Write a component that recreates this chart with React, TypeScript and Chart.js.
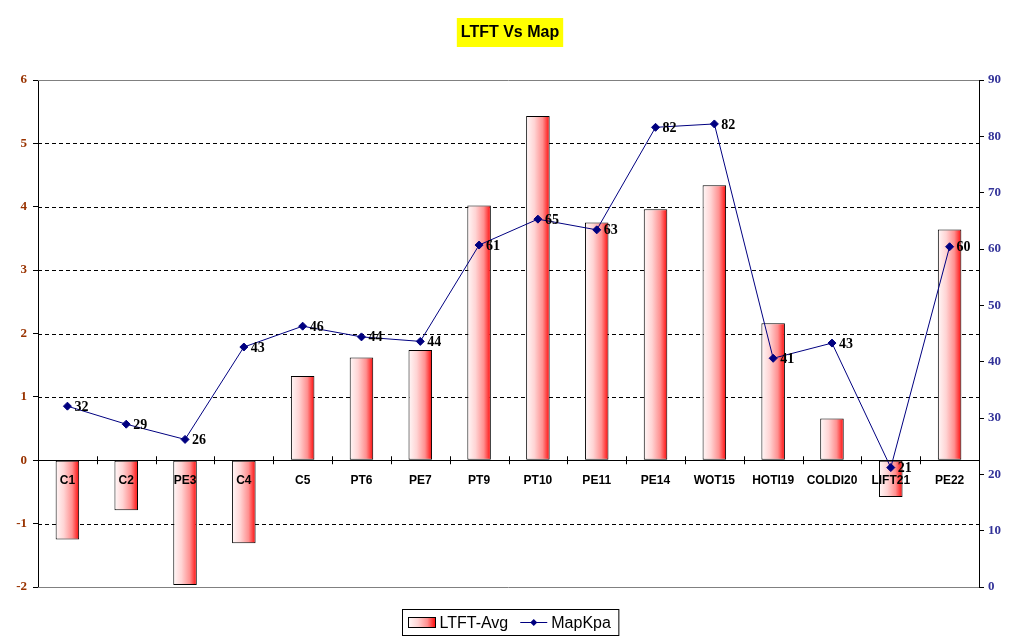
import React, { useEffect, useRef } from "react";
import { Chart, registerables } from "chart.js";

Chart.register(...registerables);

const categories = ["C1", "C2", "PE3", "C4", "C5", "PT6", "PE7", "PT9", "PT10", "PE11", "PE14", "WOT15", "HOTI19", "COLDI20", "LIFT21", "PE22"];
const ltftAvg = [-1.25, -0.79, -1.97, -1.31, 1.33, 1.62, 1.74, 4.02, 5.43, 3.75, 3.96, 4.34, 2.16, 0.66, -0.58, 3.64];
const mapKpa = [32.1, 28.9, 26.2, 42.6, 46.3, 44.4, 43.6, 60.7, 65.3, 63.4, 81.6, 82.2, 40.6, 43.3, 21.2, 60.4];
const titleText = "LTFT Vs Map";
const leftMin = -2;
const leftMax = 6;
const rightMin = 0;
const rightMax = 90;

const SANS = "'Liberation Sans', Arial, sans-serif";
const SERIF = "'Liberation Serif', 'Times New Roman', serif";
const BAR_PCT = 0.4;

function addStops(g: CanvasGradient) {
  g.addColorStop(0, "#fff8f8");
  g.addColorStop(0.35, "#ffd4d4");
  g.addColorStop(0.7, "#ff9090");
  g.addColorStop(1, "#ff0808");
  return g;
}

function barGradient(ctx: any) {
  const chart = ctx.chart;
  const area = chart.chartArea;
  const xs = chart.scales?.x;
  if (!area || !xs || ctx.dataIndex === undefined) return "#ff8080";
  const cx = xs.getPixelForValue(ctx.dataIndex);
  const w = (area.width / categories.length) * BAR_PCT;
  return addStops(chart.ctx.createLinearGradient(cx - w / 2, 0, cx + w / 2, 0));
}

const gridPlugin = {
  id: "customGrid",
  beforeDatasetsDraw(chart: any) {
    const { ctx, chartArea } = chart;
    const ys = chart.scales.y;
    ctx.save();
    for (let v = leftMin; v <= leftMax; v++) {
      if (v === 0) continue;
      const y = Math.round(ys.getPixelForValue(v)) + 0.5;
      ctx.beginPath();
      if (v === leftMin || v === leftMax) {
        ctx.setLineDash([]);
        ctx.strokeStyle = "#808080";
      } else {
        ctx.setLineDash([4, 3]);
        ctx.strokeStyle = "#000000";
      }
      ctx.lineWidth = 1;
      ctx.moveTo(chartArea.left, y);
      ctx.lineTo(chartArea.right, y);
      ctx.stroke();
    }
    ctx.restore();
  },
  afterDatasetsDraw(chart: any) {
    const { ctx, chartArea } = chart;
    const ys = chart.scales.y;
    const xs = chart.scales.x;
    const y0 = ys.getPixelForValue(0);
    ctx.save();
    ctx.setLineDash([]);
    ctx.strokeStyle = "#000";
    ctx.lineWidth = 1;
    const step = chartArea.width / categories.length;
    for (let i = 1; i < categories.length; i++) {
      const x = Math.round(xs.getPixelForValue(i) - step / 2) + 0.5;
      ctx.beginPath();
      ctx.moveTo(x, y0 - 4);
      ctx.lineTo(x, y0 + 4);
      ctx.stroke();
    }
    ctx.restore();
  },
};

const decorPlugin = {
  id: "decor",
  afterDraw(chart: any) {
    const { ctx, width } = chart;
    ctx.save();
    // title
    ctx.font = `bold 16px ${SANS}`;
    const tw = ctx.measureText(titleText).width;
    const cx = width / 2;
    ctx.fillStyle = "#ffff00";
    ctx.fillRect(cx - tw / 2 - 4, 18, tw + 8, 29);
    ctx.fillStyle = "#000";
    ctx.textAlign = "center";
    ctx.textBaseline = "middle";
    ctx.fillText(titleText, cx, 33);

    // data labels for line
    const meta = chart.getDatasetMeta(1);
    ctx.font = `bold 14px ${SERIF}`;
    ctx.textAlign = "left";
    ctx.textBaseline = "middle";
    ctx.fillStyle = "#000";
    meta.data.forEach((pt: any, i: number) => {
      ctx.fillText(String(Math.round(mapKpa[i])), pt.x + 7, pt.y + 1);
    });

    // legend
    const labels = ["LTFT-Avg", "MapKpa"];
    ctx.font = `16px ${SANS}`;
    const w1 = ctx.measureText(labels[0]).width;
    const w2 = ctx.measureText(labels[1]).width;
    const sw = 27;
    const total = 6 + sw + 4 + w1 + 12 + sw + 4 + w2 + 8;
    const lx = Math.round(cx - total / 2) + 0.5;
    const ly = 609.5;
    const lh = 26;
    ctx.strokeStyle = "#000";
    ctx.lineWidth = 1;
    ctx.strokeRect(lx, ly, total, lh);
    const my = ly + lh / 2;
    let x = lx + 6;
    ctx.fillStyle = addStops(ctx.createLinearGradient(x, 0, x + sw, 0));
    ctx.fillRect(x, my - 5, sw, 10);
    ctx.strokeRect(x, my - 5, sw, 10);
    x += sw + 4;
    ctx.fillStyle = "#000";
    ctx.textBaseline = "middle";
    ctx.fillText(labels[0], x, my + 1);
    x += w1 + 12;
    ctx.strokeStyle = "#000080";
    ctx.beginPath();
    ctx.moveTo(x, my);
    ctx.lineTo(x + sw, my);
    ctx.stroke();
    ctx.fillStyle = "#000080";
    ctx.beginPath();
    const dx = x + sw / 2;
    ctx.moveTo(dx, my - 3.5);
    ctx.lineTo(dx + 3.5, my);
    ctx.lineTo(dx, my + 3.5);
    ctx.lineTo(dx - 3.5, my);
    ctx.closePath();
    ctx.fill();
    x += sw + 4;
    ctx.fillStyle = "#000";
    ctx.fillText(labels[1], x, my + 1);
    ctx.restore();
  },
};

export default function App() {
  const ref = useRef<HTMLCanvasElement | null>(null);
  useEffect(() => {
    document.body.style.margin = "0";
    if (!ref.current) return;
    const chart = new Chart(ref.current, {
      type: "bar",
      data: {
        labels: categories,
        datasets: [
          {
            type: "bar",
            label: "LTFT-Avg",
            data: ltftAvg,
            yAxisID: "y",
            backgroundColor: barGradient as any,
            borderColor: "#000000",
            borderWidth: 1,
            borderSkipped: false,
            barPercentage: BAR_PCT,
            categoryPercentage: 1,
            order: 2,
          },
          {
            type: "line",
            label: "MapKpa",
            data: mapKpa,
            yAxisID: "y1",
            borderColor: "#000080",
            backgroundColor: "#000080",
            borderWidth: 1,
            pointStyle: "rectRot",
            pointRadius: 4,
            pointBackgroundColor: "#000080",
            pointBorderColor: "#000080",
            tension: 0,
            order: 1,
          },
        ],
      },
      options: {
        animation: false,
        responsive: true,
        maintainAspectRatio: false,
        layout: { padding: { top: 80, bottom: 57, left: 0, right: 0 } },
        plugins: {
          legend: { display: false },
          title: { display: false },
          tooltip: { enabled: false },
        },
        scales: {
          x: {
            position: { y: 0 } as any,
            offset: true,
            grid: { display: true, drawOnChartArea: false, drawTicks: false, offset: true },
            border: { display: true, color: "#000000", width: 1, z: 1 } as any,
            ticks: {
              padding: 13,
              color: "#000000",
              font: { family: SANS, size: 12, weight: "bold" },
              maxRotation: 0,
              autoSkip: false,
              z: 1,
            } as any,
          },
          y: {
            position: "left",
            min: leftMin,
            max: leftMax,
            ticks: {
              stepSize: 1,
              padding: 6,
              color: "#993300",
              font: { family: SERIF, size: 13, weight: "bold" },
            },
            grid: { drawOnChartArea: false, tickLength: 5, color: "#000000" },
            border: { display: true, color: "#000000", width: 1 },
            afterFit: (s: any) => {
              s.width = 38;
            },
          },
          y1: {
            position: "right",
            min: rightMin,
            max: rightMax,
            ticks: {
              stepSize: 10,
              padding: 4,
              color: "#333399",
              font: { family: SERIF, size: 13, weight: "bold" },
            },
            grid: { drawOnChartArea: false, tickLength: 5, color: "#000000" },
            border: { display: true, color: "#000000", width: 1 },
            afterFit: (s: any) => {
              s.width = 41;
            },
          },
        },
      },
      plugins: [gridPlugin, decorPlugin],
    });
    return () => chart.destroy();
  }, []);
  return (
    <div style={{ width: 1020, height: 644, position: "relative", background: "#fff" }}>
      <canvas ref={ref} />
    </div>
  );
}
